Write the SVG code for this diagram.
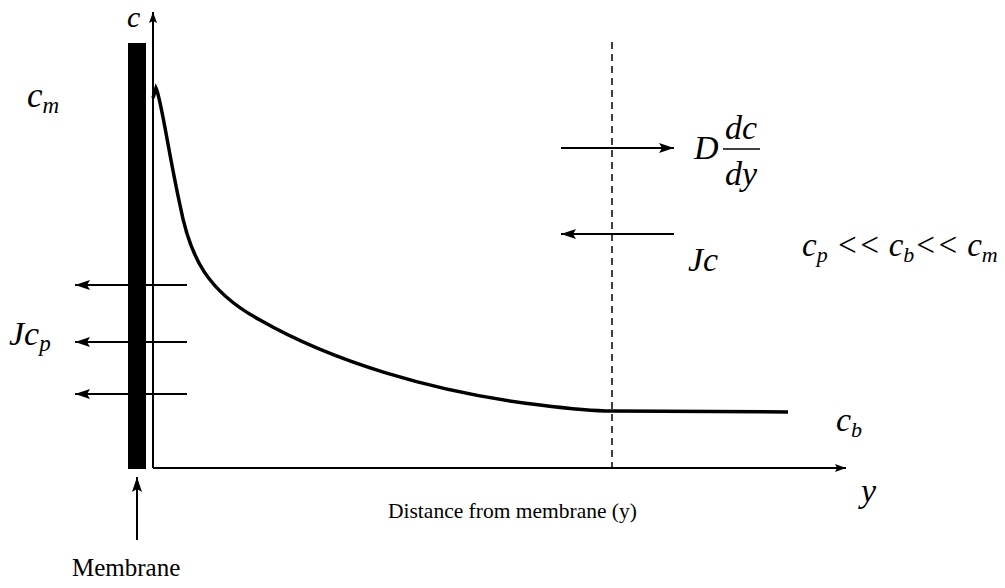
<svg xmlns="http://www.w3.org/2000/svg" width="1005" height="588" viewBox="0 0 1005 588">
<style>
.ar{stroke:#000;stroke-width:2;fill:none;marker-end:url(#ah)}
.it{font-family:"Liberation Serif","Times New Roman",serif;font-style:italic;fill:#000}
.rm{font-family:"Liberation Serif","Times New Roman",serif;fill:#000}
</style>
<defs>
<marker id="ah" markerWidth="16" markerHeight="12" refX="15" refY="5" orient="auto" markerUnits="userSpaceOnUse">
<path d="M0,0 L15,5 L0,10 L3,5 Z" fill="#000"/>
</marker>
<marker id="ahs" markerWidth="12" markerHeight="10" refX="11" refY="4" orient="auto" markerUnits="userSpaceOnUse">
<path d="M0,0 L11,4 L0,8 L2,4 Z" fill="#000"/>
</marker>
</defs>
<rect width="1005" height="588" fill="#fff"/>
<g id="membrane">
<rect x="128" y="43" width="18" height="426" fill="#000"/>
</g>
<g id="axes">
<line x1="153" y1="468" x2="153" y2="12" style="stroke:#000;stroke-width:2;marker-end:url(#ahs)"/>
<line x1="153" y1="468" x2="846" y2="468" style="stroke:#000;stroke-width:2;marker-end:url(#ahs)"/>
<line x1="612" y1="42" x2="612" y2="467" style="stroke:#000;stroke-width:1.5;stroke-dasharray:7,5"/>
</g>
<g id="curve">
<path d="M153,98 L156,88 C161,98 168,150 180,205 C190,258 208,292 260,320 C330,360 430,392 540,405 C580,410 600,411 612,411 L788,412" style="stroke:#000;stroke-width:3.5;fill:none"/>
</g>
<g id="connectors">
<line class="ar" x1="187" y1="285" x2="75" y2="285"/>
<line class="ar" x1="187" y1="342" x2="75" y2="342"/>
<line class="ar" x1="187" y1="394" x2="75" y2="394"/>
<line class="ar" x1="561" y1="148" x2="674" y2="148"/>
<line class="ar" x1="674" y1="234" x2="561" y2="234"/>
<line class="ar" x1="137" y1="540" x2="137" y2="477"/>
</g>
<g id="labels">
<text class="it" x="127" y="27" font-size="30">c</text>
<text class="it" x="27" y="107" font-size="35">c<tspan font-size="23" dy="6">m</tspan></text>
<text class="it" x="694" y="159" font-size="34">D</text>
<text class="it" x="725" y="139" font-size="34">dc</text>
<line x1="723" y1="149" x2="760" y2="149" style="stroke:#000;stroke-width:1.5"/>
<text class="it" x="725" y="185" font-size="34">dy</text>
<text class="it" x="688" y="271" font-size="34">Jc</text>
<text class="it" x="802" y="256" font-size="33">c<tspan font-size="22" dy="6">p</tspan><tspan dy="-6"> &lt;&lt; c</tspan><tspan font-size="22" dy="6">b</tspan><tspan dy="-6">&lt;&lt; c</tspan><tspan font-size="22" dy="6">m</tspan></text>
<text class="it" x="9" y="345" font-size="34">Jc<tspan font-size="23" dy="6">p</tspan></text>
<text class="it" x="836" y="431" font-size="34">c<tspan font-size="22" dy="6">b</tspan></text>
<text class="it" x="861" y="502" font-size="34">y</text>
<text class="rm" x="388" y="518" font-size="21.5">Distance from membrane (y)</text>
<text class="rm" x="72" y="576" font-size="25">Membrane</text>
</g>
</svg>
